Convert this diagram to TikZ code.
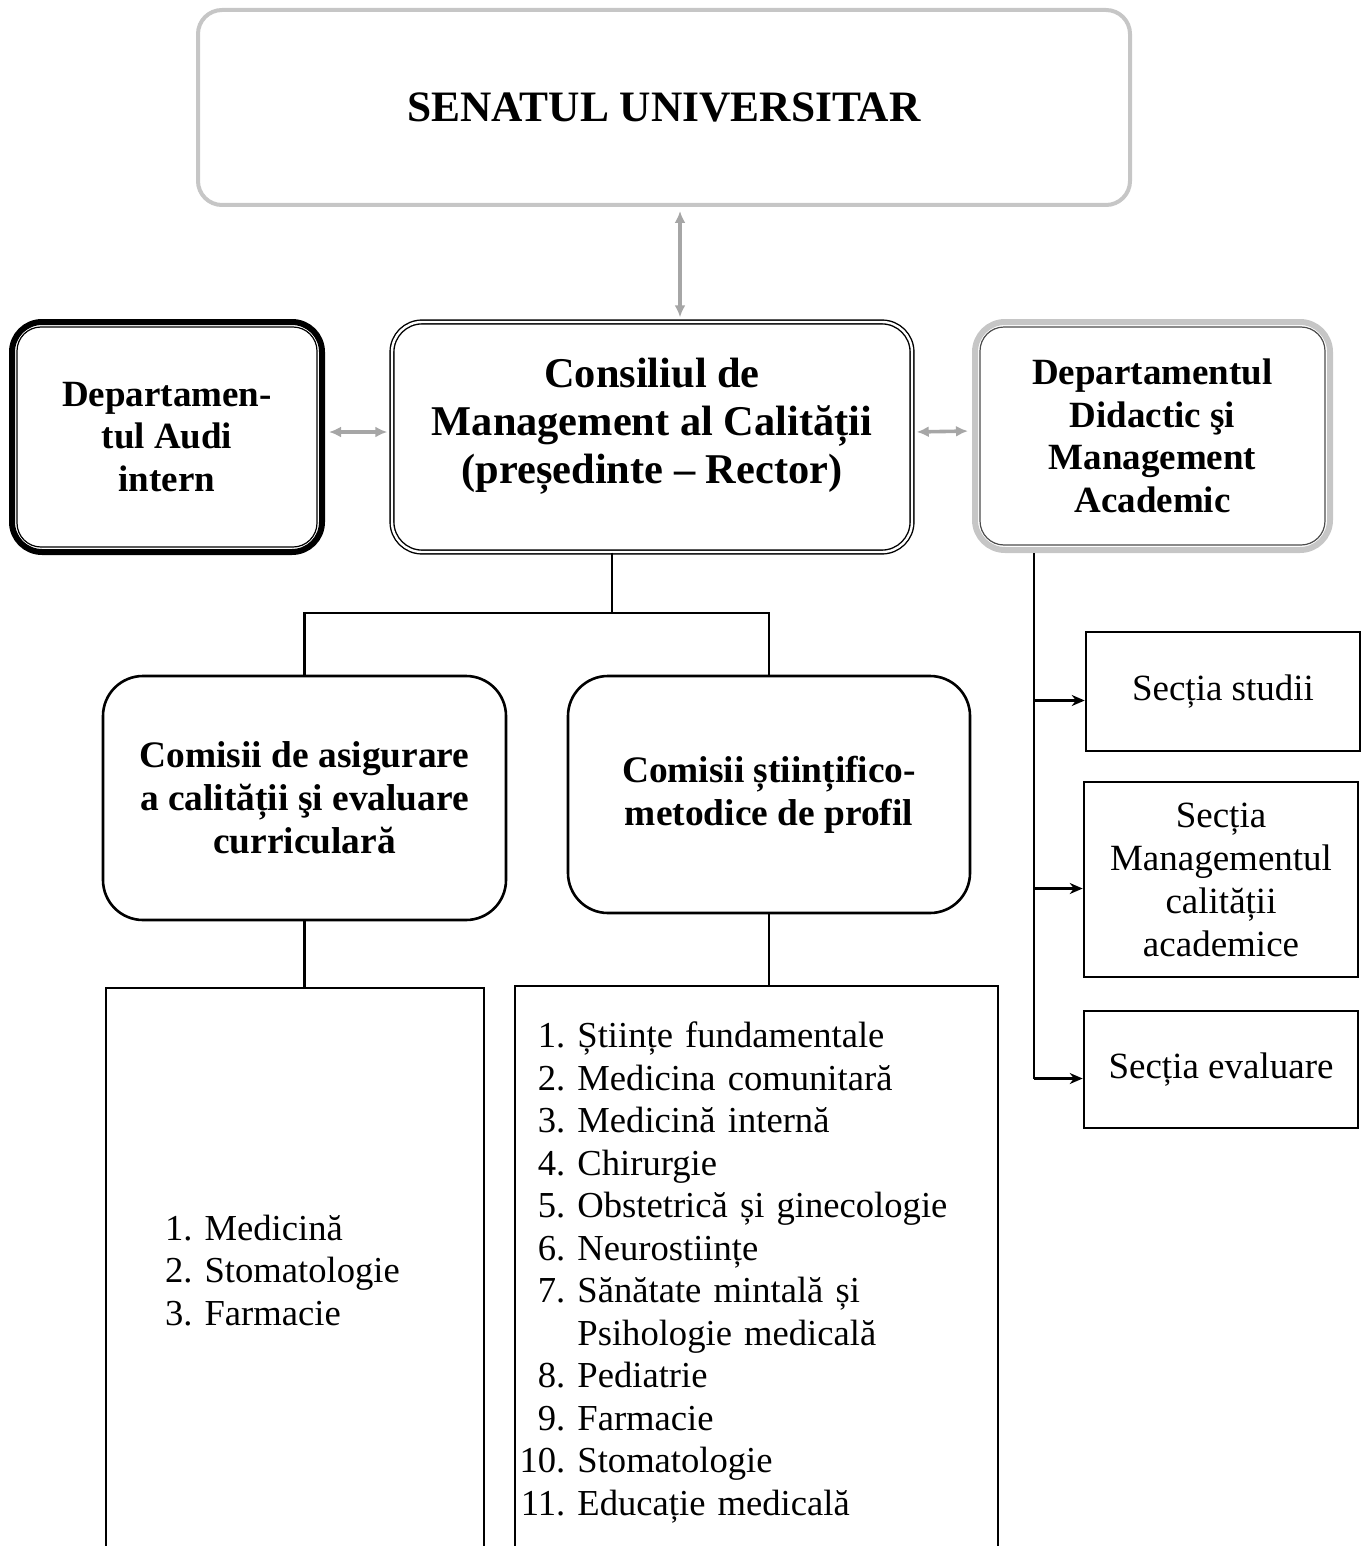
\documentclass[tikz,border=0pt]{standalone}
\usepackage{fontspec}
\setmainfont{Liberation Serif}
\usetikzlibrary{positioning,calc,arrows.meta}
\tikzset{senatbox/.style={draw=gray!45, line width=2pt, rounded corners=12pt, minimum width=466pt, minimum height=97.5pt, font=\bfseries\fontsize{21.7}{26}\selectfont}}
\tikzset{dblbox/.style={draw, double, double distance=1.2pt, line width=0.7pt, rounded corners=15pt, align=center, font=\bfseries\fontsize{21.2}{24}\selectfont}}
\tikzset{heavybox/.style={draw, line width=3pt, rounded corners=15pt, align=center, font=\bfseries\fontsize{18.5}{21.3}\selectfont}}
\tikzset{greybox/.style={heavybox, draw=gray!45}}
\tikzset{inline/.style={draw=#1, line width=0.6pt, rounded corners=12pt}}
\tikzset{combox/.style={draw, line width=1.3pt, rounded corners=20pt, align=center, font=\bfseries\fontsize{18.7}{21.5}\selectfont}}
\tikzset{secbox/.style={draw, line width=1.3pt, align=center, minimum width=137pt, font=\fontsize{18.5}{21.5}\selectfont}}
\tikzset{listbox/.style={draw, line width=1.3pt, inner xsep=1.5pt, align=left, font=\fontsize{18.3}{21.25}\selectfont}}
\tikzset{garr/.style={draw, {Latex[length=6pt,width=5.5pt]}-{Latex[length=6pt,width=5.5pt]}, gray!70, line width=1.8pt, shorten <=2pt, shorten >=2pt}}
\tikzset{link/.style={draw, line width=1.2pt}}
\tikzset{arr/.style={link, -{Stealth[length=6.5pt,width=5.5pt]}}}

\begin{document}
\begin{tikzpicture}[x=0.5pt, y=0.5pt]
	\clip (0,0) rectangle (1367,-1546);
	% top level
	\node[senatbox] (senat) at (664,-107.5) {SENATUL UNIVERSITAR};
	\node[dblbox, minimum width=260pt, minimum height=115pt, text depth=16pt] (cmc) at (652,-437) {Consiliul de\\Management al Calității\\(președinte – Rector)};
	\node[heavybox, minimum width=155pt, minimum height=115pt] (audit) at (167,-437) {Departamen-\\tul Audi\\intern};
	\node[greybox, minimum width=177.5pt, minimum height=114pt] (dda) at (1152.5,-436) {Departamentul\\Didactic şi\\Management\\Academic};
	\draw[inline=black] ([shift={(4pt,-4pt)}]audit.north west) rectangle ([shift={(-4pt,4pt)}]audit.south east);
	\draw[inline=gray!60!black] ([shift={(4pt,-4pt)}]dda.north west) rectangle ([shift={(-4pt,4pt)}]dda.south east);
	\draw[garr] ([xshift=8pt]senat.south) -- ([xshift=8pt]senat.south |- cmc.north);
	\draw[garr] ([yshift=2.5pt]audit.east) -- ([yshift=2.5pt]cmc.west);
	\draw[garr] ([yshift=2.5pt]cmc.east) -- ([yshift=2.5pt]dda.west);
	% commissions
	\node[combox, minimum width=201.5pt, minimum height=122pt] (casc) at (304.5,-798) {Comisii de asigurare\\a calității şi evaluare\\curriculară};
	\node[combox, minimum width=201pt, minimum height=118.5pt] (csm) at (769,-794.5) {Comisii științifico-\\metodice de profil};
	\coordinate (split) at ([xshift=-20pt,yshift=-30pt]cmc.south);
	\draw[link] ([xshift=-20pt]cmc.south) -- (split);
	\draw[link] (casc.north) |- (split) -| (csm.north);
	% lists
	\node[listbox, minimum width=189pt, minimum height=286pt, text width=186pt] (listasc) at (295,-1274) {%
		\begin{tabular}{@{\hspace{28pt}}r@{\ }l@{}}
			1. & Medicină\\
			2. & Stomatologie\\
			3. & Farmacie
		\end{tabular}};
	\node[listbox, minimum width=241.5pt, minimum height=287pt, text width=237pt] (listcsm) at (756.5,-1273) {%
		\begin{tabular}{@{}r@{\ }l@{}}
			1. & Științe fundamentale\\
			2. & Medicina comunitară\\
			3. & Medicină internă\\
			4. & Chirurgie\\
			5. & Obstetrică și ginecologie\\
			6. & Neurostiințe\\
			7. & Sănătate mintală și\\
			   & Psihologie medicală\\
			8. & Pediatrie\\
			9. & Farmacie\\
			10. & Stomatologie\\
			11. & Educație medicală
		\end{tabular}};
	\draw[link] (casc.south) -- (casc.south |- listasc.north);
	\draw[link] (csm.south) -- (csm.south |- listcsm.north);
	% sections
	\node[secbox, minimum height=59.5pt] (sstud) at (1223,-691.5) {Secția studii};
	\node[secbox, minimum height=97.5pt] (smca) at (1221,-879.5) {Secția\\Managementul\\calității\\academice};
	\node[secbox, minimum height=58.5pt] (seval) at (1221,-1069.5) {Secția evaluare};
	\coordinate (trunk) at ([xshift=-59.25pt]dda.south);
	\path ([yshift=-4.5pt]seval.west) coordinate (seval-in);
	\draw[link] (trunk) -- (trunk |- seval-in);
	\foreach \s in {sstud,smca,seval}{
		\path ([yshift=-4.5pt]\s.west) coordinate (\s-in);
		\draw[arr] (trunk |- \s-in) -- (\s-in);
	}
\end{tikzpicture}
\end{document}
